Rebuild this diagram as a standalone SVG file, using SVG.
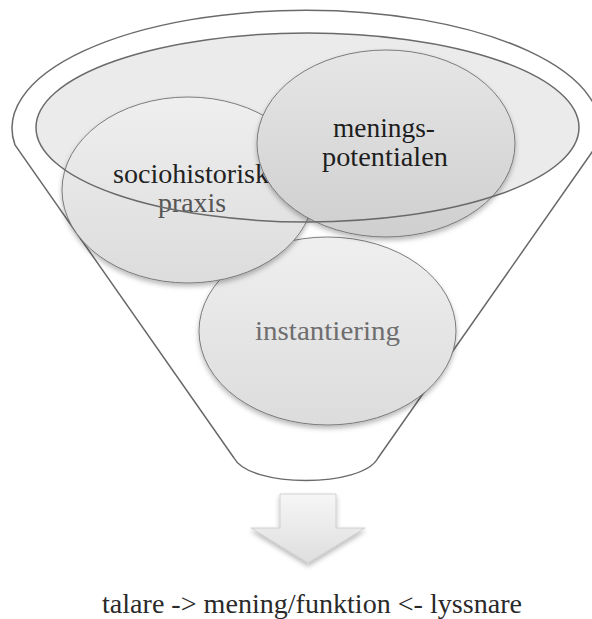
<svg xmlns="http://www.w3.org/2000/svg" width="592" height="619" viewBox="0 0 592 619">
<defs>
<linearGradient id="gCirc" x1="0" y1="0" x2="0" y2="1">
<stop offset="0" stop-color="#efefef"/>
<stop offset="1" stop-color="#dcdcdc"/>
</linearGradient>
<linearGradient id="gCirc2" x1="0" y1="0" x2="0" y2="1">
<stop offset="0" stop-color="#e6e6e6"/>
<stop offset="1" stop-color="#cfcfcf"/>
</linearGradient>
<linearGradient id="gArrow" x1="0" y1="0" x2="0" y2="1">
<stop offset="0" stop-color="#f6f6f6"/>
<stop offset="1" stop-color="#dedede"/>
</linearGradient>
<filter id="shadow" x="-20%" y="-20%" width="140%" height="150%">
<feDropShadow dx="0" dy="3" stdDeviation="2.5" flood-color="#000" flood-opacity="0.28"/>
</filter>
<style>
.funnel{fill:#fff;stroke:#6a6a6a;stroke-width:1.5}
.circ{stroke:#6f6f6f;stroke-width:0.9;filter:url(#shadow)}
.lbl{font-family:"Liberation Serif","Times New Roman",serif;font-size:27px;text-anchor:middle}
</style>
</defs>
<g id="funnel">
<path class="funnel" d="M15,145 A294,118 0 1 1 597,145 L378,458 C362,488 250,488 234,458 Z"/>
<ellipse cx="307.5" cy="127.5" rx="271.5" ry="94.5" fill="#ebebeb" stroke="none"/>
</g>
<g id="instantiering">
<ellipse class="circ" cx="327.5" cy="331" rx="128.5" ry="94" fill="url(#gCirc)"/>
<text class="lbl" x="327.5" y="340" fill="#6e6e6e" textLength="145" lengthAdjust="spacingAndGlyphs">instantiering</text>
</g>
<g id="sociohistorisk">
<ellipse class="circ" cx="188" cy="190" rx="126" ry="93" fill="url(#gCirc)"/>
<text class="lbl" x="191" y="183" fill="#222" textLength="156" lengthAdjust="spacingAndGlyphs">sociohistorisk</text>
<text class="lbl" x="192" y="212" fill="#555" textLength="68" lengthAdjust="spacingAndGlyphs">praxis</text>
</g>
<g id="meningspotentialen">
<ellipse class="circ" cx="386" cy="143.5" rx="129" ry="93.5" fill="url(#gCirc2)"/>
<text class="lbl" x="384" y="137" fill="#1e1e1e" textLength="102" lengthAdjust="spacingAndGlyphs">menings-</text>
<text class="lbl" x="385" y="166" fill="#1e1e1e" textLength="126" lengthAdjust="spacingAndGlyphs">potentialen</text>
</g>
<g id="funnel-rim">
<ellipse cx="307.5" cy="127.5" rx="271.5" ry="94.5" fill="none" stroke="#6a6a6a" stroke-width="1.5"/>
</g>
<g id="connectors">
<polygon points="280,494 336,494 336,528 365,528 308,563 251,528 280,528" fill="url(#gArrow)" stroke="#c8c8c8" stroke-width="0.8" filter="url(#shadow)"/>
</g>
<g id="result">
<text class="lbl" x="312" y="613" fill="#2a2a2a" textLength="420" lengthAdjust="spacingAndGlyphs">talare -&gt; mening/funktion &lt;- lyssnare</text>
</g>
</svg>
